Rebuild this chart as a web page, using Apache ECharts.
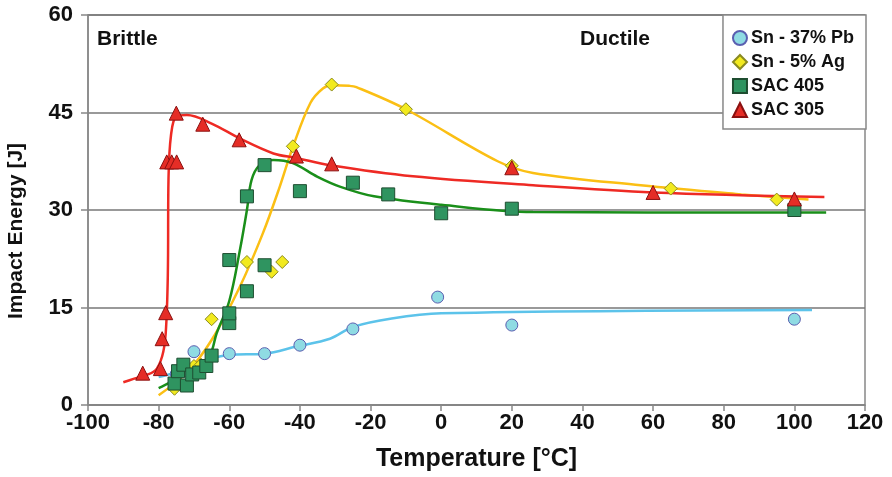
<!DOCTYPE html>
<html>
<head>
<meta charset="utf-8">
<script src="https://cdn.jsdelivr.net/npm/echarts@6/dist/echarts.min.js"></script>
<style>
  html, body { margin: 0; padding: 0; background: #fff; }
  #main { width: 892px; height: 477px; }
</style>
</head>
<body>
<div id="main"></div>
<script>
// measured points [temperature, energy]
var pbPoints = [[-75, 4.8], [-73, 5.2], [-70, 8.2], [-60, 7.9], [-50, 7.9], [-40, 9.2], [-25, 11.7], [-1, 16.6], [20, 12.3], [100, 13.2]];
var agPoints = [[-75.5, 2.5], [-70, 6], [-68, 6.2], [-65, 13.2], [-55, 22], [-48, 20.5], [-45, 22], [-42, 39.8], [-31, 49.3], [-10, 45.5], [20, 36.8], [65, 33.3], [95, 31.6]];
var sac405Points = [[-75.5, 3.3], [-74.5, 5.2], [-73, 6.2], [-72, 3], [-70.5, 4.7], [-68.5, 5], [-66.5, 6], [-65, 7.6], [-60, 12.6], [-60, 14.1], [-60, 22.3], [-55, 17.5], [-55, 32.1], [-50, 21.5], [-50, 36.9], [-40, 32.9], [-25, 34.2], [-15, 32.4], [0, 29.5], [20, 30.2], [100, 30]];
var sac305Points = [[-84.5, 4.9], [-79.5, 5.6], [-79, 10.2], [-78, 14.2], [-77.7, 37.4], [-76.3, 37.4], [-74.9, 37.4], [-75, 44.9], [-67.5, 43.2], [-57.2, 40.8], [-41, 38.3], [-31, 37.1], [20, 36.5], [60, 32.7], [100, 31.7]];

// trend curves
var pbCurve = [[-80, 4.3], [-76, 4.9], [-70, 6.4], [-60, 7.7], [-50, 7.9], [-41, 9], [-31.5, 10.2], [-25, 12], [-14, 13.3], [0, 14.1], [105, 14.6]];
var agCurve = [[-80, 1.5], [-72, 5], [-65, 10], [-57, 18.2], [-50.5, 26.4], [-45.7, 33.6], [-42, 39.7], [-37, 46.5], [-33.5, 48.7], [-31, 49.2], [-26, 49.1], [-24, 48.9], [-10, 45.5], [16, 37.5], [26, 35.7], [56.5, 33.8], [85, 32.4], [104, 31.6]];
var sac405Curve = [[-80, 2.6], [-77, 3.4], [-70, 5.5], [-65.5, 7.7], [-63.6, 11], [-60, 16], [-57, 23.8], [-55, 30], [-53.7, 34.6], [-51.4, 36.9], [-47.5, 37.7], [-42, 37.2], [-35, 35.1], [-28.7, 33.6], [-19, 32.1], [0, 30.8], [26, 29.7], [109, 29.6]];
var sac305Curve = [[-90, 3.5], [-85, 4.4], [-81, 5.3], [-79, 7.5], [-78, 11], [-77.4, 20], [-77.2, 35], [-76.5, 41.5], [-75, 44.4], [-72, 44.6], [-65, 43.3], [-57, 41], [-47.5, 38.7], [-41, 38], [-31.5, 36.9], [-8, 35.2], [26, 33.8], [60, 32.7], [108.5, 32]];

var names = ['Sn - 37% Pb', 'Sn - 5% Ag', 'SAC 405', 'SAC 305'];
var lineColors = ['#5cc3ea', '#fbbf14', '#1a8f1a', '#ee2a24'];
var fillColors = ['#8fdbe3', '#f2ea1f', '#2f9460', '#e52d26'];
var borderColors = ['#5a5fb0', '#8a8a20', '#1e4d30', '#8a1010'];
var symbols = ['circle', 'diamond', 'rect', 'triangle'];
var sizes = [12, 13, 13, 14];

var font = "'Liberation Sans', Arial, sans-serif";

var curves = [pbCurve, agCurve, sac405Curve, sac305Curve];
var points = [pbPoints, agPoints, sac405Points, sac305Points];

var series = [];
curves.forEach(function (c, i) {
  series.push({
    name: 'curve' + i,
    type: 'line',
    data: c,
    smooth: 0.35,
    showSymbol: false,
    silent: true,
    z: 2,
    lineStyle: { color: lineColors[i], width: 2.5 }
  });
});
points.forEach(function (p, i) {
  series.push({
    name: names[i],
    type: 'scatter',
    data: p,
    symbol: symbols[i],
    symbolSize: sizes[i],
    z: 3,
    itemStyle: { color: fillColors[i], borderColor: borderColors[i], borderWidth: 1, opacity: 1 }
  });
});

var myChart = echarts.init(document.getElementById('main'));
myChart.setOption({
  animation: false,
  backgroundColor: '#fff',
  grid: { left: 88, right: 27, top: 15, bottom: 72, show: true, borderColor: '#888', borderWidth: 1.5 },
  xAxis: {
    type: 'value', min: -100, max: 120, interval: 20,
    name: 'Temperature [°C]', nameLocation: 'middle', nameGap: 42,
    nameTextStyle: { fontFamily: font, fontWeight: 'bold', fontSize: 25, color: '#111' },
    axisLine: { onZero: false, lineStyle: { color: '#888', width: 1.5 } },
    axisTick: { show: true, length: 6, lineStyle: { color: '#888', width: 1.5 } },
    axisLabel: { fontFamily: font, fontWeight: 'bold', fontSize: 22, color: '#111', margin: 7 },
    splitLine: { show: false }
  },
  yAxis: {
    type: 'value', min: 0, max: 60, interval: 15,
    axisLine: { show: true, onZero: false, lineStyle: { color: '#888', width: 1.5 } },
    axisTick: { show: true, length: 7, lineStyle: { color: '#888', width: 1.5 } },
    axisLabel: { fontFamily: font, fontWeight: 'bold', fontSize: 22, color: '#111', margin: 15 },
    splitLine: { show: true, lineStyle: { color: '#777', width: 1.5 } }
  },
  legend: {
    data: names.map(function (n, i) { return { name: n, icon: symbols[i] }; }),
    orient: 'vertical',
    right: 26, top: 15,
    backgroundColor: '#fff',
    borderColor: '#888', borderWidth: 1.5,
    padding: [14, 12, 10, 9],
    itemGap: 6,
    itemWidth: 14, itemHeight: 14,
    textStyle: { fontFamily: font, fontWeight: 'bold', fontSize: 18, lineHeight: 18, color: '#111', padding: [0, 0, 0, -1] }
  },
  graphic: [
    {
      type: 'text', x: 16, y: 231, rotation: Math.PI / 2,
      style: { text: 'Impact Energy [J]', fontFamily: font, fontWeight: 'bold', fontSize: 21, fill: '#111', align: 'center', verticalAlign: 'middle' }
    },
    { type: 'text', left: 97, top: 29, style: { text: 'Brittle', fontFamily: font, fontWeight: 'bold', fontSize: 21, fill: '#111' } },
    { type: 'text', left: 580, top: 29, style: { text: 'Ductile', fontFamily: font, fontWeight: 'bold', fontSize: 21, fill: '#111' } }
  ],
  series: series
});
</script>
</body>
</html>
